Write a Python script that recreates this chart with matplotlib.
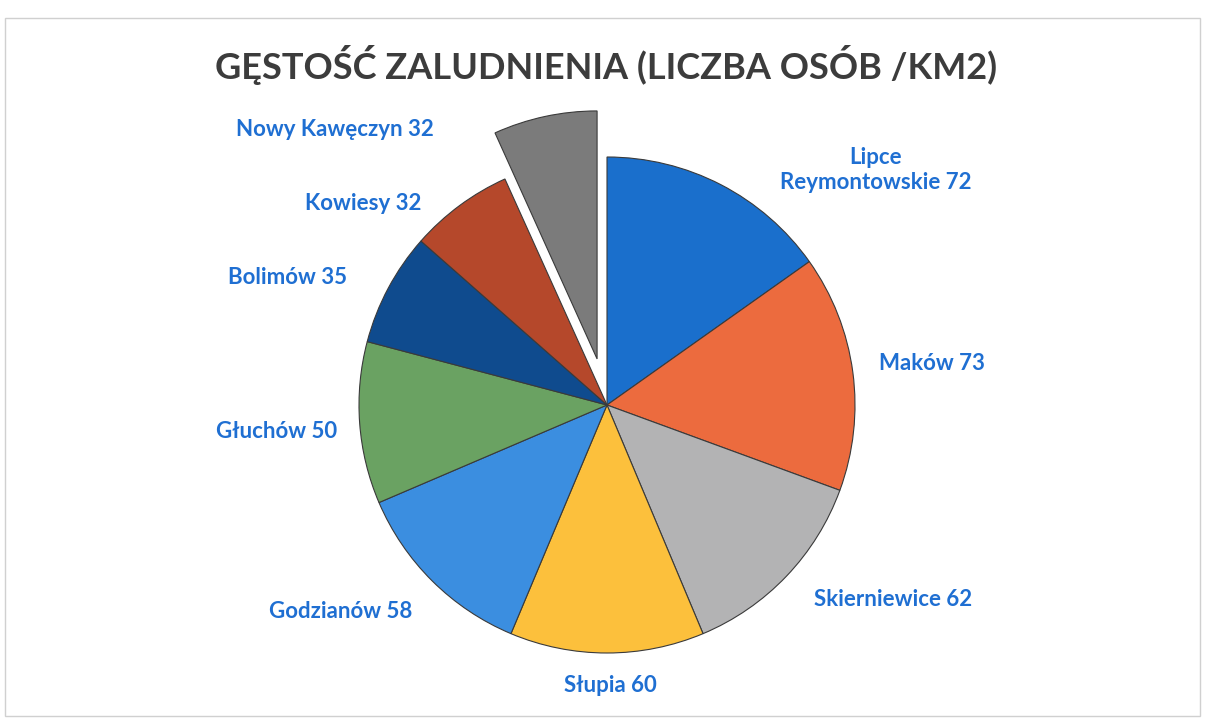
import matplotlib
matplotlib.use("Agg")
import matplotlib.pyplot as plt
from matplotlib.patches import Rectangle

# dane
gminy = ["Lipce\nReymontowskie", "Maków", "Skierniewice", "Słupia", "Godzianów",
         "Głuchów", "Bolimów", "Kowiesy", "Nowy Kawęczyn"]
gestosc = [72, 73, 62, 60, 58, 50, 35, 32, 32]
kolory = ["#1a6fcc", "#ec6b3e", "#b3b3b4", "#fcc03c", "#3b8ee0",
          "#6aa262", "#0f4b8e", "#b5482b", "#7b7b7b"]
wysuniecie = [0, 0, 0, 0, 0, 0, 0, 0, 0.19]   # ako zlomok polomeru

# pozycje etykiet w pikselach (x od lewej, y od góry)
etykiety_xy = [(876, 170), (932, 364), (893, 600), (610, 686), (341, 612),
               (277, 432), (288, 277), (363, 203), (335, 130)]

W, H = 1206, 722
fig = plt.figure(figsize=(W / 100, H / 100), dpi=100)
ax = fig.add_axes([0, 0, 1, 1])

R = 248
stred = (607, H - 405)
wedges, _ = ax.pie(gestosc, colors=kolory, startangle=90, counterclock=False,
                   explode=[e * R for e in wysuniecie], radius=R, center=stred,
                   wedgeprops=dict(edgecolor="#3a3a3a", linewidth=0.8))

for nazwa, v, (x, y) in zip(gminy, gestosc, etykiety_xy):
    ax.text(x, H - y, f"{nazwa} {v}", ha="center", va="center",
            fontsize=16, fontweight="bold", color="#1f6fd2",
            family=["Lato", "DejaVu Sans"], linespacing=1.25)

ax.text(606, H - 65, "GĘSTOŚĆ ZALUDNIENIA (LICZBA OSÓB /KM2)", ha="center",
        va="center", fontsize=26, fontweight="bold", color="#3c3c3c",
        family=["Lato", "DejaVu Sans"])

ax.set_xlim(0, W)
ax.set_ylim(0, H)
ax.axis("off")

# ramka wykresu
fig.patches.append(Rectangle((5 / W, 6 / H), 1195 / W, 698 / H,
                             transform=fig.transFigure, fill=False,
                             edgecolor="#d0d0d0", linewidth=1.0))

fig.savefig("out.png", dpi=100, facecolor="white")
